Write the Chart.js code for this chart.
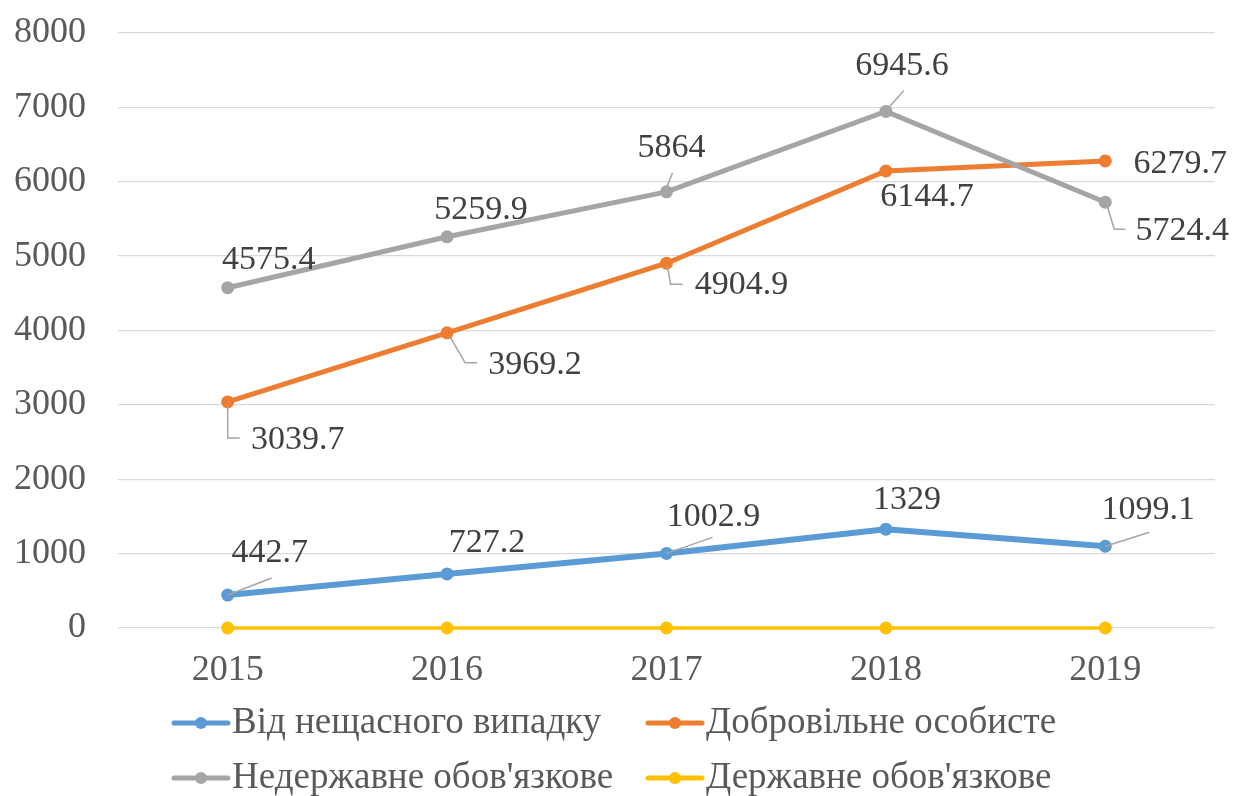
<!DOCTYPE html>
<html>
<head>
<meta charset="utf-8">
<script src="https://cdn.jsdelivr.net/npm/chart.js@4.4.1/dist/chart.umd.min.js"></script>
<style>
  html, body { margin: 0; padding: 0; background: #ffffff; }
  #wrap { width: 1234px; height: 796px; }
</style>
</head>
<body>
<div id="wrap"><canvas id="c" width="1234" height="796"></canvas></div>
<script>
// ---- data ----
const years = ['2015', '2016', '2017', '2018', '2019'];
const seriesNames = ['Від нещасного випадку', 'Добровільне особисте', "Недержавне обов'язкове", "Державне обов'язкове"];
const accident  = [442.7, 727.2, 1002.9, 1329, 1099.1];
const voluntary = [3039.7, 3969.2, 4904.9, 6144.7, 6279.7];
const nonState  = [4575.4, 5259.9, 5864, 6945.6, 5724.4];
const stateObl  = [0, 0, 0, 0, 0];
const yTicks = [0, 1000, 2000, 3000, 4000, 5000, 6000, 7000, 8000];

// ---- styling ----
const FONT = '"Liberation Serif", "Times New Roman", serif';
const colors = ['#5B9BD5', '#ED7D31', '#A5A5A5', '#FFC000'];
const widths = [6, 5, 5, 3.5];

// label placement (offsets from point, in px) and leader paths; null => no labels
const labelPlacement = [
  [ {dx: 42, dy: -42, leader: [[0,0],[44,-17]]},
    {dx: 40, dy: -31},
    {dx: 47, dy: -36, leader: [[0,0],[46,-16]]},
    {dx: 21, dy: -29},
    {dx: 43, dy: -36, leader: [[0,0],[44,-14]]} ],
  [ {dx: 70, dy: 38, leader: [[0,3],[0,36],[12,36]]},
    {dx: 88, dy: 32, leader: [[3,4],[18,30],[30,30]]},
    {dx: 75, dy: 22, leader: [[1,3],[4,21],[16,21]]},
    {dx: 41, dy: 26},
    {dx: 75, dy: 3} ],
  [ {dx: 41, dy: -28},
    {dx: 34, dy: -27},
    {dx: 5, dy: -44, leader: [[0,-4],[6,-19]]},
    {dx: 16, dy: -45, leader: [[2,-3],[18,-21]]},
    {dx: 77, dy: 29, leader: [[2,4],[9,27],[20,27]]} ],
  null
];

const dataLabelPlugin = {
  id: 'dataLabels',
  afterDatasetsDraw(chart) {
    const ctx = chart.ctx;
    ctx.save();
    chart.data.datasets.forEach((ds, i) => {
      const place = labelPlacement[i];
      if (!place) return;
      const meta = chart.getDatasetMeta(i);
      meta.data.forEach((pt, j) => {
        const p = place[j];
        if (p.leader) {
          ctx.beginPath();
          ctx.strokeStyle = '#A5A5A5';
          ctx.lineWidth = 1.5;
          p.leader.forEach((q, k) => {
            if (k === 0) ctx.moveTo(pt.x + q[0], pt.y + q[1]);
            else ctx.lineTo(pt.x + q[0], pt.y + q[1]);
          });
          ctx.stroke();
        }
        ctx.fillStyle = '#404040';
        ctx.font = '34px ' + FONT;
        ctx.textAlign = 'center';
        ctx.textBaseline = 'middle';
        ctx.fillText(String(ds.data[j]), pt.x + p.dx, pt.y + p.dy);
      });
    });
    ctx.restore();
  }
};

const legendLayout = { cols: [172, 646], rows: [723, 778], lineLen: 58, gap: 2 };
const gridLegendPlugin = {
  id: 'gridLegend',
  afterDraw(chart) {
    const ctx = chart.ctx;
    ctx.save();
    chart.data.datasets.forEach((ds, i) => {
      const x = legendLayout.cols[i % 2];
      const y = legendLayout.rows[Math.floor(i / 2)];
      ctx.strokeStyle = ds.borderColor;
      ctx.lineWidth = 5;
      ctx.lineCap = 'round';
      ctx.beginPath();
      ctx.moveTo(x + 2, y);
      ctx.lineTo(x + legendLayout.lineLen - 2, y);
      ctx.stroke();
      ctx.fillStyle = ds.borderColor;
      ctx.beginPath();
      ctx.arc(x + legendLayout.lineLen / 2, y, 6, 0, Math.PI * 2);
      ctx.fill();
      ctx.fillStyle = '#595959';
      ctx.font = '37px ' + FONT;
      ctx.textAlign = 'left';
      ctx.textBaseline = 'middle';
      ctx.fillText(ds.label, x + legendLayout.lineLen + legendLayout.gap, y);
    });
    ctx.restore();
  }
};

const seriesData = [accident, voluntary, nonState, stateObl];
const datasets = seriesData.map((d, i) => ({
  label: seriesNames[i],
  data: d,
  borderColor: colors[i],
  backgroundColor: colors[i],
  borderWidth: widths[i],
  pointRadius: 6.5,
  pointBorderWidth: 0,
  pointBackgroundColor: colors[i],
  tension: 0,
  clip: false,
  order: 3 - i
}));

new Chart(document.getElementById('c'), {
  type: 'line',
  data: { labels: years, datasets },
  options: {
    responsive: false,
    devicePixelRatio: 1,
    animation: false,
    events: [],
    layout: { padding: { top: 33, right: 19, bottom: 110, left: 0 } },
    plugins: { legend: { display: false }, tooltip: { enabled: false } },
    scales: {
      x: {
        offset: true,
        grid: { display: false, drawTicks: false },
        border: { display: false },
        ticks: { color: '#595959', font: { family: FONT, size: 36 }, padding: 21, maxRotation: 0 },
        afterFit(s) { s.height = 58; s.paddingLeft = 0; s.paddingRight = 0; }
      },
      y: {
        min: 0, max: 8000,
        afterBuildTicks(s) { s.ticks = yTicks.map(v => ({ value: v })); },
        grid: { color: '#D9D9D9', lineWidth: 1.3, drawTicks: false },
        border: { display: false },
        ticks: { color: '#595959', font: { family: FONT, size: 36 }, padding: 32, callback: v => String(v) },
        afterFit(s) { s.width = 118; s.paddingTop = 0; s.paddingBottom = 0; }
      }
    }
  },
  plugins: [dataLabelPlugin, gridLegendPlugin]
});
</script>
</body>
</html>
